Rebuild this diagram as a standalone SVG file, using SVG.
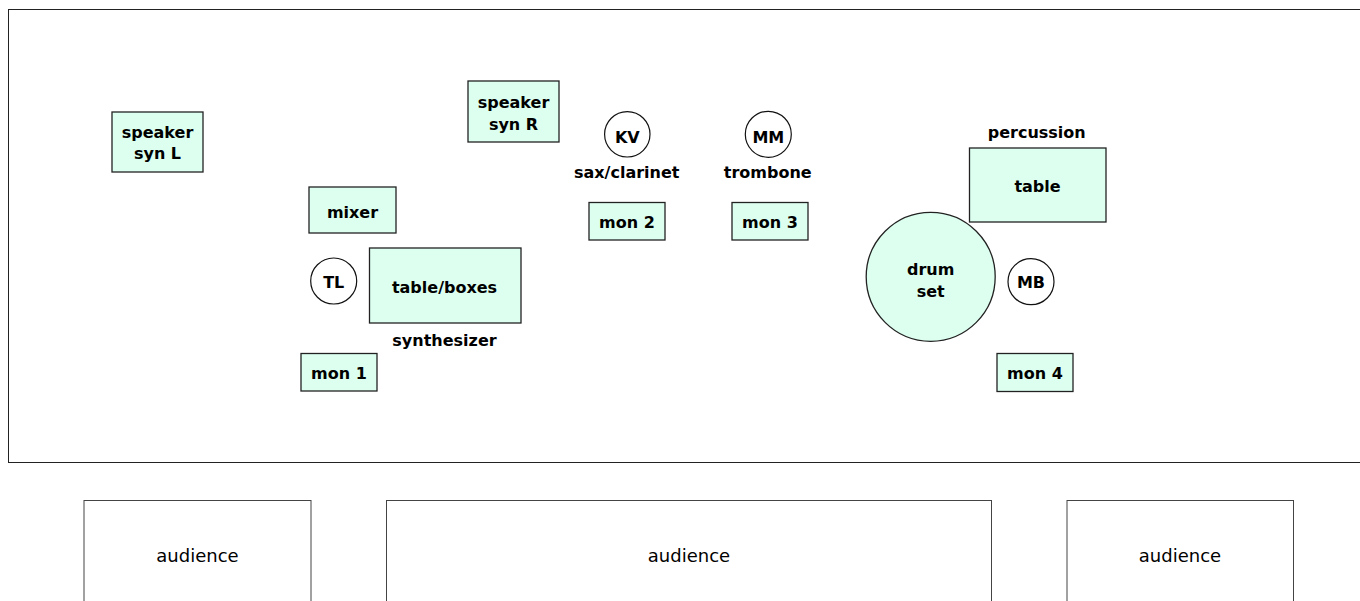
<svg xmlns="http://www.w3.org/2000/svg" width="1360" height="601" viewBox="0 0 1360 601">
<style>
.eq{fill:#dcfff0;stroke:#222;stroke-width:1.3}
.p{fill:#fff;stroke:#111;stroke-width:1.2}
.aud{fill:#fff;stroke:#444;stroke-width:1}
.b{font-family:"DejaVu Sans",Verdana,sans-serif;font-weight:bold;font-size:16px;fill:#000;text-anchor:middle}
.r{font-family:"DejaVu Sans",Verdana,sans-serif;font-size:18px;fill:#000;text-anchor:middle}
</style>
<rect width="1360" height="601" fill="#fff"/>
<rect id="stage" x="8.5" y="9.5" width="1360" height="453" fill="none" stroke="#222" stroke-width="1"/>
<g id="speaker-syn-l"><rect class="eq" x="112" y="112" width="91" height="60"/><text class="b" x="157.5" y="137.7">speaker</text><text class="b" x="157.5" y="159.3">syn L</text></g>
<g id="speaker-syn-r"><rect class="eq" x="468" y="81" width="91" height="61"/><text class="b" x="513.5" y="107.7">speaker</text><text class="b" x="513.5" y="130">syn R</text></g>
<g id="mixer"><rect class="eq" x="309" y="187" width="87" height="46"/><text class="b" x="352.5" y="217.7">mixer</text></g>
<g id="tl"><circle class="p" cx="333.7" cy="281" r="23"/><text class="b" x="333.7" y="287.7">TL</text></g>
<g id="table-boxes"><rect class="eq" x="369.5" y="248" width="151.5" height="75"/><text class="b" x="444.5" y="292.7">table/boxes</text><text class="b" x="444.5" y="346">synthesizer</text></g>
<g id="mon1"><rect class="eq" x="301" y="353.5" width="76" height="37.5"/><text class="b" x="339" y="379.3">mon 1</text></g>
<g id="kv"><circle class="p" cx="627.3" cy="134.3" r="22.7"/><text class="b" x="627.3" y="142.5">KV</text><text class="b" x="626.7" y="178.3">sax/clarinet</text></g>
<g id="mm"><circle class="p" cx="768.3" cy="134.3" r="23"/><text class="b" x="768.3" y="142.5">MM</text><text class="b" x="767.7" y="178.3">trombone</text></g>
<g id="mon2"><rect class="eq" x="589" y="202.5" width="76" height="37.5"/><text class="b" x="627" y="228.3">mon 2</text></g>
<g id="mon3"><rect class="eq" x="732" y="202.5" width="76" height="37.5"/><text class="b" x="770" y="228.3">mon 3</text></g>
<g id="percussion-table"><text class="b" x="1036.7" y="138.3">percussion</text><rect class="eq" x="969.5" y="148" width="136.5" height="74"/><text class="b" x="1037.5" y="192.3">table</text></g>
<g id="drum-set"><circle class="eq" cx="930.7" cy="276.8" r="64.5"/><text class="b" x="930.7" y="275">drum</text><text class="b" x="930.7" y="296.5">set</text></g>
<g id="mb"><circle class="p" cx="1031" cy="281.7" r="23"/><text class="b" x="1031" y="288.3">MB</text></g>
<g id="mon4"><rect class="eq" x="997" y="353.5" width="76" height="38"/><text class="b" x="1035" y="379.3">mon 4</text></g>
<g id="audience-left"><rect class="aud" x="84" y="500.5" width="227" height="110"/><text class="r" x="197.5" y="561.7">audience</text></g>
<g id="audience-center"><rect class="aud" x="386.5" y="500.5" width="605" height="110"/><text class="r" x="689" y="561.7">audience</text></g>
<g id="audience-right"><rect class="aud" x="1067" y="500.5" width="226.5" height="110"/><text class="r" x="1180" y="561.7">audience</text></g>
<g id="connectors"/>
</svg>
